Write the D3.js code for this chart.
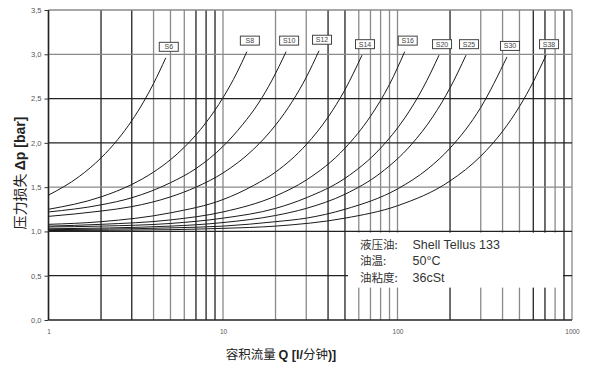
<!DOCTYPE html>
<html>
<head>
<meta charset="utf-8">
<script src="https://cdn.jsdelivr.net/npm/d3@7"></script>
<style>
  body { margin: 0; background: #fff; }
  text { font-family: "Liberation Sans", Arial, "Noto Sans CJK SC", sans-serif; }
</style>
</head>
<body>
<svg id="chart" width="593" height="368"></svg>
<script>
// values: Q in l/min, dp in bar
const seriesNames = ["S6", "S8", "S10", "S12", "S14", "S16", "S20", "S25", "S30", "S38"];

const q_S6 = [1, 1.5, 2, 2.5, 3, 3.5, 4, 4.7];
const dp_S6 = [1.41, 1.62, 1.83, 2.04, 2.25, 2.46, 2.67, 2.96];
const q_S8 = [1, 2, 3, 4, 5, 6, 8, 10, 12, 13.7];
const dp_S8 = [1.25, 1.39, 1.53, 1.67, 1.81, 1.95, 2.23, 2.51, 2.79, 3.03];
const q_S10 = [1, 2, 3, 5, 7, 10, 13, 16, 19, 23];
const dp_S10 = [1.22, 1.30, 1.38, 1.55, 1.71, 1.96, 2.21, 2.45, 2.70, 3.03];
const q_S12 = [1, 2, 3, 5, 7, 10, 15, 20, 25, 30, 35.5];
const dp_S12 = [1.17, 1.23, 1.28, 1.39, 1.50, 1.66, 1.93, 2.20, 2.47, 2.74, 3.04];
const q_S14 = [1, 2, 5, 10, 15, 20, 30, 40, 50, 62.6];
const dp_S14 = [1.08, 1.11, 1.21, 1.36, 1.52, 1.67, 1.98, 2.29, 2.60, 2.99];
const q_S16 = [1, 2, 5, 10, 20, 30, 50, 70, 90, 110];
const dp_S16 = [1.06, 1.08, 1.13, 1.22, 1.40, 1.58, 1.94, 2.30, 2.66, 3.03];
const q_S20 = [1, 2, 5, 10, 20, 30, 50, 80, 110, 140, 173];
const dp_S20 = [1.05, 1.06, 1.09, 1.15, 1.26, 1.38, 1.60, 1.94, 2.28, 2.62, 2.99];
const q_S25 = [1, 5, 10, 20, 30, 50, 80, 120, 160, 200, 247];
const dp_S25 = [1.03, 1.06, 1.10, 1.18, 1.26, 1.42, 1.66, 1.98, 2.30, 2.62, 2.99];
const q_S30 = [1, 5, 10, 20, 30, 50, 100, 150, 200, 300, 424];
const dp_S30 = [1.02, 1.04, 1.06, 1.11, 1.15, 1.25, 1.48, 1.71, 1.94, 2.40, 2.97];
const q_S38 = [1, 5, 10, 20, 50, 100, 200, 300, 400, 500, 600, 710];
const dp_S38 = [1.01, 1.02, 1.035, 1.06, 1.15, 1.29, 1.57, 1.85, 2.13, 2.41, 2.69, 2.99];

const qSeries = [q_S6, q_S8, q_S10, q_S12, q_S14, q_S16, q_S20, q_S25, q_S30, q_S38];
const dpSeries = [dp_S6, dp_S8, dp_S10, dp_S12, dp_S14, dp_S16, dp_S20, dp_S25, dp_S30, dp_S38];

// axis ticks
const xLabelTicks = [1, 10, 100, 1000];
const xGridTicks = [1, 2, 3, 4, 5, 6, 7, 8, 9, 10, 20, 30, 40, 50, 60, 70, 80, 90, 100,
  200, 300, 400, 500, 600, 700, 800, 900, 1000];
const yTicks = [0, 0.5, 1.0, 1.5, 2.0, 2.5, 3.0, 3.5];

const legendKeys = ["液压油:", "油温:", "油粘度:"];
const legendValues = ["Shell Tellus 133", "50°C", "36cSt"];

// scanned look: some grid lines print darker than others
const darkX = [1, 2, 3, 7, 8, 9, 40, 50, 200, 600, 700, 900];
const darkY = [0, 0.5, 1.0, 2.0, 2.5];

const svg = d3.select("#chart");

const x = d3.scaleLog().domain([1, 1000]).range([48.5, 572]);
const y = d3.scaleLinear().domain([0, 3.5]).range([320, 10]);

// grid
const grid = svg.append("g");
grid.selectAll(".vline")
  .data(xGridTicks)
  .enter().append("line")
  .attr("x1", d => x(d)).attr("x2", d => x(d))
  .attr("y1", y(0)).attr("y2", y(3.5))
  .attr("stroke", d => darkX.includes(d) ? "#222" : "#8a8a8a")
  .attr("stroke-width", 1.3);

grid.selectAll(".hline")
  .data(yTicks)
  .enter().append("line")
  .attr("x1", x(1)).attr("x2", x(1000))
  .attr("y1", d => y(d)).attr("y2", d => y(d))
  .attr("stroke", d => darkY.includes(d) ? "#222" : "#8a8a8a")
  .attr("stroke-width", 1.3);

// legend area blanks the grid
svg.append("rect")
  .attr("x", 348).attr("y", y(1.0) + 1.2)
  .attr("width", 215).attr("height", 55)
  .attr("fill", "#fff");

// left axis line + y ticks
svg.append("line")
  .attr("x1", x(1)).attr("x2", x(1))
  .attr("y1", y(0)).attr("y2", y(3.5))
  .attr("stroke", "#222").attr("stroke-width", 1.4);

const yAxis = d3.axisLeft(y)
  .tickValues(yTicks)
  .tickSize(4)
  .tickPadding(3)
  .tickFormat(d => d.toFixed(1).replace(".", ","));
svg.append("g")
  .attr("transform", "translate(" + x(1) + ",0)")
  .call(yAxis)
  .call(g => g.select(".domain").remove())
  .call(g => g.selectAll("line").attr("stroke", "#333"))
  .call(g => g.selectAll("text")
    .attr("fill", "#555").attr("font-size", 7.5)
    .style("font-family", "'Liberation Sans', Arial, sans-serif"));

const xAxis = d3.axisBottom(x)
  .tickValues(xLabelTicks)
  .tickSize(0)
  .tickPadding(9)
  .tickFormat(d3.format("d"));
svg.append("g")
  .attr("transform", "translate(0," + y(0) + ")")
  .call(xAxis)
  .call(g => g.select(".domain").remove())
  .call(g => g.selectAll("text")
    .attr("fill", "#555").attr("font-size", 6.5)
    .style("font-family", "'Liberation Sans', Arial, sans-serif"));

// curves
const line = d3.line()
  .x(d => x(d[0]))
  .y(d => y(d[1]))
  .curve(d3.curveMonotoneX);

const curves = seriesNames.map((name, i) => ({
  name: name,
  pts: qSeries[i].map((q, j) => [q, dpSeries[i][j]])
}));

svg.append("g").selectAll("path")
  .data(curves)
  .enter().append("path")
  .attr("d", d => line(d.pts))
  .attr("fill", "none")
  .attr("stroke", "#1a1a1a")
  .attr("stroke-width", 1);

// curve labels
const labels = svg.append("g").selectAll("g")
  .data(curves)
  .enter().append("g")
  .attr("transform", d => {
    const last = d.pts[d.pts.length - 1];
    return "translate(" + (x(last[0]) + 3) + "," + (y(last[1]) - 11) + ")";
  });
labels.append("rect")
  .attr("x", -9.5).attr("y", -4.5)
  .attr("width", 19).attr("height", 9)
  .attr("fill", "#fff")
  .attr("stroke", "#444").attr("stroke-width", 1);
labels.append("text")
  .attr("text-anchor", "middle")
  .attr("dy", "0.35em")
  .attr("font-size", 7)
  .attr("fill", "#444")
  .text(d => d.name);

// legend text
const legend = svg.append("g")
  .attr("fill", "#333");
legend.selectAll(".lk")
  .data(legendKeys)
  .enter().append("text")
  .attr("x", 360)
  .attr("y", (d, i) => 248.5 + i * 16.7)
  .attr("font-size", 11.5)
  .style("font-family", "'Noto Sans CJK SC', sans-serif")
  .text(d => d);
legend.selectAll(".lv")
  .data(legendValues)
  .enter().append("text")
  .attr("x", 412.5)
  .attr("y", (d, i) => 248.5 + i * 16.7)
  .attr("font-size", 12.5)
  .style("font-family", "'Liberation Sans', Arial, sans-serif")
  .text(d => d);

// axis titles
const yTitle = svg.append("text")
  .attr("transform", "translate(25,173) rotate(-90)")
  .attr("text-anchor", "middle")
  .attr("font-size", 14)
  .attr("fill", "#222");
yTitle.append("tspan")
  .style("font-family", "'Noto Sans CJK SC', sans-serif")
  .text("压力损失 ");
yTitle.append("tspan")
  .attr("font-weight", "bold")
  .text("Δp [bar]");

const xTitle = svg.append("text")
  .attr("x", 281).attr("y", 359)
  .attr("text-anchor", "middle")
  .attr("font-size", 12.5)
  .attr("fill", "#222");
xTitle.append("tspan")
  .style("font-family", "'Noto Sans CJK SC', sans-serif")
  .text("容积流量 ");
xTitle.append("tspan").attr("font-weight", "bold").text("Q [l/");
xTitle.append("tspan")
  .style("font-family", "'Noto Sans CJK SC', sans-serif")
  .text("分钟");
xTitle.append("tspan").attr("font-weight", "bold").text(")]");
</script>
</body>
</html>
